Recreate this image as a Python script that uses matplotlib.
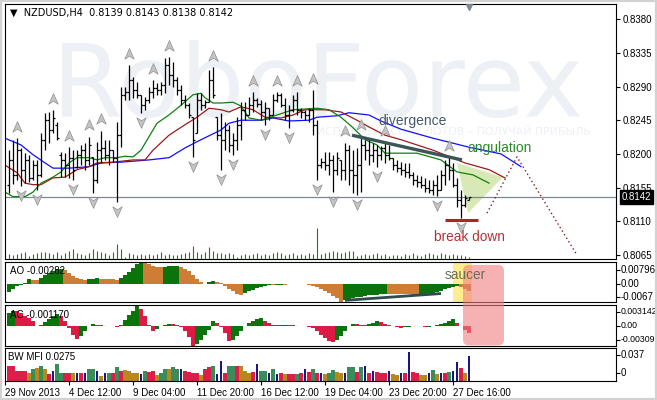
import matplotlib
matplotlib.use("Agg")
import matplotlib.pyplot as plt
import matplotlib.transforms as mtransforms
import numpy as np
from matplotlib.collections import LineCollection
from matplotlib.font_manager import FontProperties
from matplotlib.patches import FancyBboxPatch, PathPatch, Polygon, Rectangle
from matplotlib.path import Path
from matplotlib.textpath import TextPath

plt.rcParams['font.family'] = ['Liberation Sans', 'DejaVu Sans']

# NZDUSD H4 bars (29 Nov - 30 Dec 2013)
open_ = [0.8159, 0.8192, 0.8172, 0.8205, 0.8179, 0.8192, 0.8168, 0.8185, 0.8172, 0.8219,
         0.8245, 0.8232, 0.8239, 0.8199, 0.8192, 0.8185, 0.8195, 0.8183, 0.8199, 0.8205,
         0.8192, 0.8196, 0.8165, 0.8205, 0.8208, 0.8199, 0.8205, 0.8195, 0.8225, 0.8279,
         0.8283, 0.8299, 0.8285, 0.8279, 0.8265, 0.8272, 0.8283, 0.8288, 0.8285, 0.8292,
         0.8319, 0.8305, 0.8299, 0.8285, 0.8272, 0.8265, 0.8249, 0.8228, 0.8272, 0.8265,
         0.8269, 0.8299, 0.8249, 0.8225, 0.8219, 0.8232, 0.8212, 0.8219, 0.8239, 0.8259,
         0.8252, 0.8265, 0.8272, 0.8267, 0.8256, 0.8261, 0.8252, 0.8272, 0.8279, 0.8265,
         0.8252, 0.8259, 0.8272, 0.8259, 0.8256, 0.8252, 0.8259, 0.8239, 0.8185, 0.8189,
         0.8185, 0.8192, 0.8179, 0.8192, 0.8179, 0.8205, 0.8179, 0.8172, 0.8185, 0.8212,
         0.8205, 0.8199, 0.8205, 0.8199, 0.8208, 0.8199, 0.8195, 0.8185, 0.8181, 0.8179,
         0.8176, 0.8172, 0.8165, 0.8163, 0.8159, 0.8155, 0.8152, 0.8159, 0.8152, 0.8172,
         0.8185, 0.8179, 0.8159, 0.8139, 0.8132, 0.8139]
high = [0.8205, 0.8219, 0.8221, 0.8208, 0.8201, 0.8199, 0.8192, 0.8192, 0.8228, 0.8255,
        0.8256, 0.8259, 0.8243, 0.8203, 0.8201, 0.8209, 0.8205, 0.8205, 0.8212, 0.8215,
        0.8223, 0.8196, 0.8216, 0.8231, 0.8219, 0.8219, 0.8205, 0.8243, 0.8289, 0.8289,
        0.8319, 0.8303, 0.8296, 0.8279, 0.8276, 0.8289, 0.8299, 0.8295, 0.8296, 0.8328,
        0.8329, 0.8323, 0.8303, 0.8292, 0.8279, 0.8268, 0.8249, 0.8281, 0.8281, 0.8272,
        0.8312, 0.8316, 0.8249, 0.8255, 0.8243, 0.8239, 0.8228, 0.8249, 0.8269, 0.8269,
        0.8276, 0.8283, 0.8275, 0.8272, 0.8269, 0.8261, 0.8280, 0.8283, 0.8281, 0.8275,
        0.8265, 0.8279, 0.8283, 0.8261, 0.8259, 0.8261, 0.8285, 0.8245, 0.8195, 0.8203,
        0.8203, 0.8199, 0.8203, 0.8192, 0.8215, 0.8212, 0.8205, 0.8208, 0.8224, 0.8219,
        0.8219, 0.8215, 0.8212, 0.8211, 0.8216, 0.8212, 0.8195, 0.8192, 0.8189, 0.8188,
        0.8188, 0.8176, 0.8172, 0.8171, 0.8168, 0.8165, 0.8165, 0.8172, 0.8179, 0.8192,
        0.8196, 0.8188, 0.8168, 0.8152, 0.8145, 0.8143]
low = [0.8148, 0.8160, 0.8165, 0.8157, 0.8161, 0.8163, 0.8165, 0.8152, 0.8169, 0.8205,
       0.8215, 0.8228, 0.8219, 0.8169, 0.8169, 0.8168, 0.8165, 0.8181, 0.8185, 0.8179,
       0.8185, 0.8148, 0.8161, 0.8188, 0.8192, 0.8185, 0.8189, 0.8136, 0.8209, 0.8272,
       0.8272, 0.8275, 0.8275, 0.8255, 0.8259, 0.8268, 0.8275, 0.8279, 0.8279, 0.8281,
       0.8292, 0.8289, 0.8279, 0.8265, 0.8261, 0.8248, 0.8196, 0.8228, 0.8259, 0.8261,
       0.8269, 0.8275, 0.8219, 0.8179, 0.8205, 0.8203, 0.8199, 0.8205, 0.8219, 0.8245,
       0.8252, 0.8256, 0.8263, 0.8245, 0.8239, 0.8245, 0.8252, 0.8269, 0.8263, 0.8245,
       0.8235, 0.8256, 0.8252, 0.8248, 0.8245, 0.8243, 0.8225, 0.8165, 0.8181, 0.8179,
       0.8172, 0.8149, 0.8172, 0.8165, 0.8165, 0.8159, 0.8148, 0.8145, 0.8149, 0.8192,
       0.8185, 0.8189, 0.8183, 0.8192, 0.8188, 0.8192, 0.8179, 0.8176, 0.8172, 0.8169,
       0.8168, 0.8159, 0.8156, 0.8155, 0.8149, 0.8148, 0.8145, 0.8144, 0.8152, 0.8159,
       0.8165, 0.8156, 0.8129, 0.8115, 0.8129, 0.8138]
close = [0.8192, 0.8172, 0.8205, 0.8179, 0.8192, 0.8168, 0.8185, 0.8172, 0.8219, 0.8245,
         0.8232, 0.8248, 0.8221, 0.8192, 0.8185, 0.8195, 0.8179, 0.8199, 0.8205, 0.8192,
         0.8212, 0.8165, 0.8205, 0.8208, 0.8199, 0.8205, 0.8195, 0.8225, 0.8279, 0.8283,
         0.8299, 0.8285, 0.8279, 0.8265, 0.8272, 0.8283, 0.8288, 0.8285, 0.8292, 0.8319,
         0.8305, 0.8299, 0.8285, 0.8272, 0.8265, 0.8252, 0.8219, 0.8272, 0.8265, 0.8269,
         0.8299, 0.8279, 0.8225, 0.8219, 0.8232, 0.8212, 0.8219, 0.8239, 0.8259, 0.8252,
         0.8265, 0.8272, 0.8267, 0.8256, 0.8261, 0.8252, 0.8272, 0.8279, 0.8265, 0.8252,
         0.8259, 0.8272, 0.8259, 0.8256, 0.8252, 0.8259, 0.8239, 0.8185, 0.8189, 0.8185,
         0.8192, 0.8179, 0.8195, 0.8179, 0.8205, 0.8179, 0.8172, 0.8185, 0.8212, 0.8205,
         0.8199, 0.8205, 0.8199, 0.8208, 0.8199, 0.8195, 0.8185, 0.8181, 0.8179, 0.8176,
         0.8172, 0.8165, 0.8163, 0.8159, 0.8155, 0.8152, 0.8159, 0.8152, 0.8172, 0.8185,
         0.8179, 0.8159, 0.8139, 0.8132, 0.8141, 0.8142]
volume = [1000, 870, 1000, 1130, 1330, 670, 1000, 1130, 1330, 1330,
          1130, 1000, 1330, 870, 1130, 1670, 2000, 1130, 1000, 870,
          1130, 2000, 1670, 1330, 1130, 870, 1330, 3000, 2000, 330,
          1130, 1000, 870, 1000, 870, 1000, 870, 1000, 1330, 870,
          1000, 870, 870, 1000, 1130, 1330, 2670, 1330, 1000, 1330,
          2330, 1670, 1130, 1130, 1000, 1130, 1000, 330, 870, 1000,
          870, 1000, 1130, 870, 1000, 870, 1130, 1330, 1130, 870,
          1000, 1130, 870, 1000, 870, 1130, 1000, 6200, 1000, 1130,
          1330, 1530, 1330, 1130, 1330, 1530, 1530, 670, 870, 1000,
          870, 1000, 1130, 870, 1000, 670, 870, 870, 670, 1000,
          870, 1130, 870, 670, 1000, 1130, 1000, 870, 1130, 1000,
          870, 1000, 870, 870, 670, 330]

# Alligator lines (bar index, value), shifted into the future
jaw_idx = [-1, 3, 6, 9, 11, 15, 20, 23, 28, 35, 40, 44, 48, 53, 55, 58, 63, 66, 70, 75,
           77, 82, 85, 90, 93, 98, 106, 115, 123, 128]
jaw = [0.8221, 0.8212, 0.8199, 0.8188, 0.8181, 0.8181, 0.8183, 0.8188, 0.8189, 0.8192,
       0.8195, 0.8208, 0.8219, 0.8232, 0.8241, 0.8245, 0.8245, 0.8248, 0.8244, 0.8245,
       0.8249, 0.8251, 0.8255, 0.8252, 0.8244, 0.8233, 0.8221, 0.8209, 0.8200, 0.8183]
teeth_idx = [-1, 2, 4, 6, 8, 11, 14, 17, 20, 22, 26, 31, 34, 36, 38, 40, 44, 47, 50, 53,
             55, 58, 61, 64, 68, 71, 74, 79, 83, 87, 90, 94, 98, 106, 114, 120, 124]
teeth = [0.8185, 0.8175, 0.8161, 0.8159, 0.8159, 0.8168, 0.8169, 0.8179, 0.8183, 0.8188,
         0.8189, 0.8192, 0.8192, 0.8205, 0.8215, 0.8225, 0.8239, 0.8249, 0.8261, 0.8259,
         0.8256, 0.8263, 0.8259, 0.8249, 0.8248, 0.8252, 0.8259, 0.8259, 0.8256, 0.8245,
         0.8236, 0.8225, 0.8219, 0.8205, 0.8188, 0.8179, 0.8168]
lips_idx = [-1, 1, 4, 6, 8, 11, 13, 15, 17, 20, 22, 24, 27, 29, 31, 33, 35, 37, 40, 43,
            46, 48, 49, 51, 53, 56, 58, 60, 63, 67, 71, 77, 80, 83, 86, 89, 92, 94, 102, 108,
            112, 116, 120]
lips = [0.8149, 0.8143, 0.8143, 0.8149, 0.8161, 0.8169, 0.8176, 0.8188, 0.8195, 0.8195,
        0.8192, 0.8195, 0.8195, 0.8197, 0.8196, 0.8205, 0.8223, 0.8241, 0.8252, 0.8265,
        0.8279, 0.8281, 0.8275, 0.8268, 0.8268, 0.8269, 0.8264, 0.8248, 0.8245, 0.8252,
        0.8259, 0.8261, 0.8259, 0.8249, 0.8235, 0.8219, 0.8212, 0.8201, 0.8201, 0.8192,
        0.8176, 0.8172, 0.8161]

up_fractals = [2, 11, 15, 20, 23, 30, 36, 40, 51, 61, 67, 72, 76, 84, 88, 94, 110]
down_fractals = [3, 7, 16, 21, 27, 33, 46, 53, 56, 64, 70, 77, 81, 87, 92, 107, 113]

ao = [-0.00305, -0.00183, -0.00098, -0.00037, 0.00037, 0.00159, 0.00146, 0.00134, 0.00207, 0.00305,
      0.00378, 0.00451, 0.00525, 0.00549, 0.00488, 0.00378, 0.00268, 0.00207, 0.00171, 0.00146,
      0.00171, 0.00183, 0.00207, 0.00183, 0.00171, 0.00165, 0.00159, 0.00153, 0.00207, 0.00305,
      0.00427, 0.00573, 0.00720, 0.00796, 0.00756, 0.00708, 0.00659, 0.00622, 0.00598, 0.00610,
      0.00634, 0.00647, 0.00659, 0.00610, 0.00537, 0.00451, 0.00329, 0.00183, 0.00061, -0.00012,
      0.00049, 0.00098, 0.00073, 0.00012, -0.00098, -0.00195, -0.00281, -0.00366, -0.00403, -0.00342,
      -0.00281, -0.00220, -0.00159, -0.00110, -0.00073, -0.00049, -0.00061, -0.00043, -0.00031, -0.00037,
      -0.00024, -0.00018, -0.00012, -0.00018, -0.00024, -0.00037, -0.00073, -0.00134, -0.00207, -0.00281,
      -0.00354, -0.00439, -0.00537, -0.00670, -0.00598, -0.00561, -0.00525, -0.00500, -0.00476, -0.00451,
      -0.00427, -0.00415, -0.00403, -0.00390, -0.00378, -0.00380, -0.00383, -0.00386, -0.00389, -0.00392,
      -0.00395, -0.00398, -0.00401, -0.00390, -0.00372, -0.00350, -0.00325, -0.00293, -0.00256, -0.00207,
      -0.00159, -0.00110, -0.00073, -0.00110, -0.00183, -0.00282]
ac = [0.00193, 0.00228, 0.00218, 0.00188, 0.00152, 0.00117, 0.00066, -0.00010, 0.00015, 0.00056,
      0.00106, 0.00152, 0.00177, 0.00142, 0.00066, -0.00035, -0.00137, -0.00198, -0.00162, -0.00076,
      -0.00010, 0.00020, 0.00010, 0.00003, -0.00005, -0.00008, -0.00010, -0.00013, 0.00015, 0.00081,
      0.00157, 0.00228, 0.00314, 0.00259, 0.00142, 0.00015, -0.00076, -0.00046, -0.00010, 0.00010,
      0.00030, 0.00020, 0.00010, -0.00020, -0.00076, -0.00177, -0.00309, -0.00274, -0.00218, -0.00147,
      -0.00061, 0.00066, 0.00041, -0.00025, -0.00112, -0.00228, -0.00213, -0.00162, -0.00086, -0.00010,
      0.00041, 0.00076, 0.00101, 0.00117, 0.00066, 0.00035, 0.00010, 0.00003, 0.00010, 0.00015,
      0.00010, 0.00005, 0.00002, -0.00005, -0.00010, -0.00015, -0.00035, -0.00076, -0.00137, -0.00188,
      -0.00228, -0.00248, -0.00213, -0.00162, -0.00086, -0.00010, 0.00030, 0.00020, 0.00015, 0.00013,
      0.00020, 0.00046, 0.00066, 0.00051, 0.00030, 0.00010, -0.00005, -0.00015, -0.00030, -0.00020,
      -0.00015, -0.00010, -0.00005, -0.00010, -0.00025, -0.00015, -0.00005, 0.00005, 0.00020, 0.00046,
      0.00076, 0.00101, 0.00041, -0.00010, -0.00061, -0.00117]
mfi = [0.0171, 0.0171, 0.0114, 0.0114, 0.0114, 0.0087, 0.0133, 0.0141, 0.0171, 0.0133,
       0.0076, 0.0114, 0.0190, 0.0095, 0.0087, 0.0087, 0.0087, 0.0095, 0.0087, 0.0095,
       0.0133, 0.0133, 0.0114, 0.0057, 0.0095, 0.0095, 0.0095, 0.0152, 0.0114, 0.0122,
       0.0114, 0.0095, 0.0095, 0.0076, 0.0114, 0.0103, 0.0114, 0.0065, 0.0095, 0.0133,
       0.0133, 0.0160, 0.0133, 0.0133, 0.0114, 0.0103, 0.0095, 0.0095, 0.0065, 0.0133,
       0.0152, 0.0171, 0.0076, 0.0228, 0.0095, 0.0171, 0.0171, 0.0171, 0.0171, 0.0114,
       0.0095, 0.0103, 0.0190, 0.0114, 0.0114, 0.0095, 0.0133, 0.0076, 0.0095, 0.0076,
       0.0076, 0.0076, 0.0076, 0.0095, 0.0133, 0.0103, 0.0133, 0.0095, 0.0087, 0.0084,
       0.0095, 0.0125, 0.0103, 0.0095, 0.0095, 0.0160, 0.0160, 0.0103, 0.0160, 0.0171,
       0.0095, 0.0114, 0.0103, 0.0095, 0.0087, 0.0114, 0.0076, 0.0065, 0.0087, 0.0095,
       0.0323, 0.0103, 0.0087, 0.0065, 0.0065, 0.0087, 0.0125, 0.0076, 0.0095, 0.0087,
       0.0103, 0.0114, 0.0217, 0.0141, 0.0087, 0.0275]
# g = green, f = fade, b = fake, s = squat
mfi_zone = list("sssssfgfgf" "sbggssfbsb" "ggbfbgsgsf" "fffbgssfgg" "fggbssssfs"
                "sgbbsggsff" "fsbggbgbsf" "ssgsbsgsbf" "ggffbggsgb" "sbsssbffbs"
                "bssffbgfbs" "gbbsfb")

price_ticks = [0.8380, 0.8335, 0.8290, 0.8245, 0.8200, 0.8155, 0.8110, 0.8065]
date_idx = [-1, 15, 31, 47, 63, 79, 95, 111]
date_labels = ['29 Nov 2013', '4 Dec 12:00', '9 Dec 04:00', '11 Dec 20:00',
               '16 Dec 12:00', '19 Dec 04:00', '23 Dec 20:00', '27 Dec 16:00']

n = len(close)
x = np.arange(n)
hi = np.array(high)
lo = np.array(low)

fig = plt.figure(figsize=(6.57, 4.0), dpi=100)
fig.patch.set_facecolor('white')

left, width = 5 / 657, 611 / 657
ax = fig.add_axes([left, 0.3525, width, 0.6375])
ax_ao = fig.add_axes([left, 0.245, width, 0.1])
ax_ac = fig.add_axes([left, 0.135, width, 0.1025])
ax_mfi = fig.add_axes([left, 0.0475, width, 0.0825])

for a in (ax, ax_ao, ax_ac, ax_mfi):
    a.set_xlim(-1, 151.75)
    for s in a.spines.values():
        s.set_linewidth(0.8)
        s.set_color('black')
    a.set_xticks([])
    a.set_yticks([])
ax.set_facecolor('none')

# Watermark
tp = TextPath((0, 0), 'RoboForex', size=100, prop=FontProperties(family='DejaVu Sans'))
ext = tp.get_extents()
tr = (mtransforms.Affine2D().translate(-ext.x0, -ext.y0)
      .scale(518 / ext.width, 78 / ext.height).translate(62, 282))
fig.add_artist(PathPatch(tp, transform=tr, fc='#edf0f4', ec='none', zorder=-1))
tp2 = TextPath((0, 0), 'ИСПОЛЬЗУЙ СИЛУ ЛОТОВ – ПОЛУЧАЙ ПРИБЫЛЬ', size=100,
               prop=FontProperties(family='DejaVu Sans'))
ext2 = tp2.get_extents()
tr2 = (mtransforms.Affine2D().translate(-ext2.x0, -ext2.y0)
       .scale(272 / ext2.width, 10 / ext2.height).translate(318, 265))
fig.add_artist(PathPatch(tp2, transform=tr2, fc='#eef0f4', ec='none', zorder=-1))

# Main price panel
ax.set_ylim(0.80597, 0.84002)
ax.yaxis.tick_right()
ax.set_yticks(price_ticks)
ax.set_yticklabels(['%.4f' % p for p in price_ticks])
ax.tick_params(axis='y', direction='out', length=3, width=0.8, pad=1.5, labelsize=7)

vmax = max(volume)
ax.vlines(x, 0, np.array(volume) / (vmax * 8.2), transform=ax.get_xaxis_transform(),
          colors='#1f7a1f', lw=0.8, zorder=1)

# angulation triangle
ax.add_patch(Polygon([(112, 0.8188), (123.5, 0.8169), (114.75, 0.8121)],
                     closed=True, fc='#d8e9b6', ec='none', zorder=1))
ax.axhline(close[-1], color='#7a8896', lw=0.9, zorder=1.5)

ax.plot(jaw_idx, jaw, color='#1010ff', lw=0.9, zorder=2)
ax.plot(teeth_idx, teeth, color='#9b1b1b', lw=0.9, zorder=2)
ax.plot(lips_idx, lips, color='#108010', lw=0.9, zorder=2)

segs = []
for i in range(n):
    segs.append([(i, low[i]), (i, high[i])])
    segs.append([(i - 0.45, open_[i]), (i, open_[i])])
    segs.append([(i, close[i]), (i + 0.45, close[i])])
ax.add_collection(LineCollection(segs, colors='black', linewidths=0.9, zorder=3))

codes = [Path.MOVETO, Path.LINETO, Path.LINETO, Path.LINETO, Path.CLOSEPOLY]
up_marker = Path([(0, 1), (0.8, -0.8), (0, -0.3), (-0.8, -0.8), (0, 1)], codes)
down_marker = Path([(0, -1), (0.8, 0.8), (0, 0.3), (-0.8, 0.8), (0, -1)], codes)
ax.plot(up_fractals, hi[up_fractals] + 0.0015, ls='none', marker=up_marker, ms=8.5,
        mfc='#c4c4c4', mec='#909090', mew=0.5, zorder=4)
ax.plot(down_fractals, lo[down_fractals] - 0.0012, ls='none', marker=down_marker, ms=8.5,
        mfc='#c4c4c4', mec='#909090', mew=0.5, zorder=4)

# analyst drawings
ax.plot([85.75, 113.25], [0.8225, 0.8192], color='#3a5656', lw=2.4, zorder=5,
        solid_capstyle='butt')
ax.plot([109, 117.25], [0.8112, 0.8112], color='#a82828', lw=2.2, zorder=5,
        solid_capstyle='butt')
ax.plot([119.5, 127, 142], [0.8121, 0.8196, 0.8065], color='#8b1c1c', lw=1,
        ls=(0, (1, 2)), zorder=5)
ax.text(92.25, 0.8244, 'divergence', color='#46586a', fontsize=10, va='center', zorder=6)
ax.text(114.5, 0.8208, 'angulation', color='#2c8a2c', fontsize=10, va='center', zorder=6)
ax.text(106.25, 0.8089, 'break down', color='#b03434', fontsize=9.8, va='center', zorder=6)

ax.text(0.008, 0.965, '\u25bc  NZDUSD,H4  0.8139 0.8143 0.8138 0.8142',
        transform=ax.transAxes, fontsize=7, va='center', family=['DejaVu Sans'])
shift_tr = mtransforms.offset_copy(ax.get_xaxis_transform(), fig=fig, x=0, y=-3, units='dots')
ax.plot([115], [1.0], marker='v', ms=5, color='#7d8a96', ls='none',
        transform=shift_tr, clip_on=False, zorder=6)

ax.annotate('%.4f' % close[-1], xy=(1, close[-1]), xycoords=ax.get_yaxis_transform(),
            xytext=(4, 0), textcoords='offset points', va='center', ha='left',
            fontsize=7, color='white', annotation_clip=False,
            bbox=dict(boxstyle='square,pad=0.2', fc='black', ec='black'))


def side_labels(a, items, size=7):
    for val, text, dy in items:
        a.text(1.0, val, text, transform=mtransforms.offset_copy(
            a.get_yaxis_transform(), fig=fig, x=5, y=dy, units='dots'),
            fontsize=size, va='center', ha='left', clip_on=False)
        a.plot([1.0], [val], marker='_', ms=3, mew=0.8, color='black',
               transform=mtransforms.offset_copy(a.get_yaxis_transform(), fig=fig,
                                                 x=2, y=dy, units='dots'),
               clip_on=False)


# AO panel
ao_arr = np.array(ao)
ao_up = np.diff(ao_arr, prepend=ao_arr[0] - 1) > 0
ax_ao.set_ylim(-0.0067, 0.00796)
ax_ao.axvspan(111, 115.75, color='#ffee90', lw=0, zorder=0)
ax_ao.bar(x, ao_arr, width=0.78, color=np.where(ao_up, '#0b730b', '#cd7d35'), lw=0, zorder=2)
ax_ao.plot([84, 108], [-0.0061, -0.0036], color='#2f4b4b', lw=2, zorder=3,
           solid_capstyle='butt')
ax_ao.text(0.008, 0.775, 'AO -0.00282', transform=ax_ao.transAxes, fontsize=7, va='center')
side_labels(ax_ao, [(0.00796, '0.00796', -8), (0.0, '0.00', 0), (-0.0067, '-0.0067', 5)])

# AC panel
ac_arr = np.array(ac)
ac_up = np.diff(ac_arr, prepend=ac_arr[0] - 1) > 0
ax_ac.set_ylim(-0.00309, 0.003142)
ax_ac.bar(x, ac_arr, width=0.78, color=np.where(ac_up, '#0b730b', '#dc1a44'), lw=0, zorder=2)
ax_ac.text(0.008, 0.756, 'AC -0.001170', transform=ax_ac.transAxes, fontsize=7,
           va='center', zorder=3)
side_labels(ax_ac, [(0.003142, '0.003142', -7), (0.0, '0.00', 0), (-0.00309, '-0.00309', 6)],
            size=6.3)

# BW MFI panel
zone_color = {'g': '#3a8c5c', 'f': '#b8891a', 'b': '#17178a', 's': '#dc1f4a'}
zone_width = {'g': 0.78, 'f': 0.78, 'b': 0.28, 's': 0.78}
ax_mfi.set_ylim(0, 0.037)
ax_mfi.bar(x, mfi, width=[zone_width[z] for z in mfi_zone],
           color=[zone_color[z] for z in mfi_zone], lw=0, zorder=2)
ax_mfi.text(0.005, 0.727, 'BW MFI 0.0275', transform=ax_mfi.transAxes, fontsize=7, va='center')
side_labels(ax_mfi, [(0.037, '0.037', -7), (0.0, '0', 8)])
ax_mfi.set_xticks(date_idx)
ax_mfi.set_xticklabels(date_labels, ha='left')
ax_mfi.tick_params(axis='x', direction='out', length=3, width=0.8, pad=2, labelsize=7)

# saucer / pink box drawn over the oscillator panels
p0 = ax_ao.transData.transform((113.5, 0.0069))
p1 = ax_ac.transData.transform((123.75, -0.0030))
fig.add_artist(FancyBboxPatch((p0[0], p1[1]), p1[0] - p0[0], p0[1] - p1[1],
                              boxstyle='round,pad=0,rounding_size=6',
                              transform=mtransforms.IdentityTransform(),
                              fc='#f08080', ec='none', alpha=0.6, zorder=5))
st = fig.transFigure.inverted().transform(ax_ao.transData.transform((114, 0.0032)))
fig.text(st[0], st[1], 'saucer', fontsize=9.8, color='#6c6c58', ha='center', va='center',
         zorder=6)

fig.add_artist(Rectangle((0, 0), 1, 1, transform=fig.transFigure, fill=False,
                         ec='#d2d2d2', lw=3, zorder=10))

fig.savefig('out.png', dpi=100, facecolor='white')
